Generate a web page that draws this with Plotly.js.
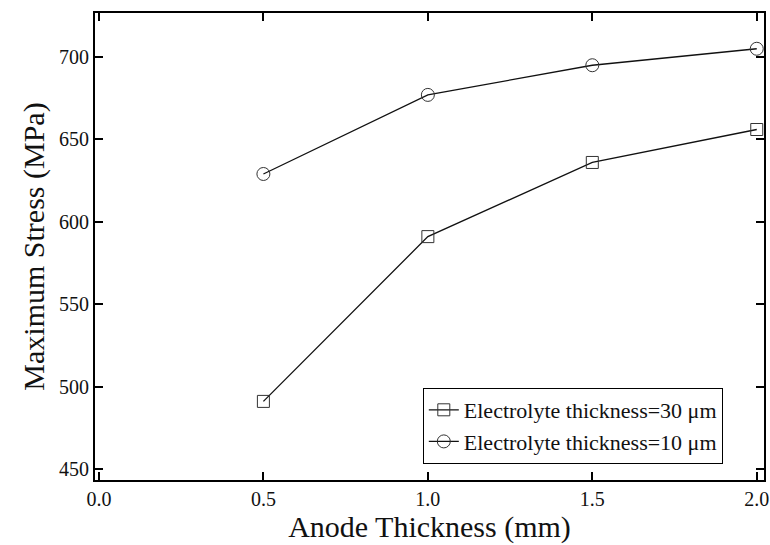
<!DOCTYPE html>
<html>
<head>
<meta charset="utf-8">
<script src="https://cdn.plot.ly/plotly-3.0.1.min.js"></script>
<style>html,body{margin:0;padding:0;background:#fff;}#chart{width:770px;height:545px;}</style>
</head>
<body>
<div id="chart"></div>
<script>
const anodeThickness = [0.5, 1.0, 1.5, 2.0];
const stress30um = [491, 591, 636, 656];
const stress10um = [629, 677, 695, 705];
const seriesNames = ["Electrolyte thickness=30 \u03bcm", "Electrolyte thickness=10 \u03bcm"];
const xTickVals = [0.0, 0.5, 1.0, 1.5, 2.0];
const xTickText = ["0.0", "0.5", "1.0", "1.5", "2.0"];
const yTickVals = [450, 500, 550, 600, 650, 700];

const font = "Liberation Serif";

const traces = [
  {
    x: anodeThickness, y: stress30um, name: seriesNames[0],
    mode: "lines+markers", type: "scatter",
    line: {color: "#111", width: 1.3},
    marker: {symbol: "square-open", size: 12, color: "#333", line: {width: 1, color: "#333"}}
  },
  {
    x: anodeThickness, y: stress10um, name: seriesNames[1],
    mode: "lines+markers", type: "scatter",
    line: {color: "#111", width: 1.3},
    marker: {symbol: "circle-open", size: 13, color: "#333", line: {width: 1, color: "#333"}}
  }
];

const axisCommon = {
  showline: true, linecolor: "#000", linewidth: 2, mirror: "ticks",
  ticks: "inside", ticklen: 8, tickwidth: 2, tickcolor: "#000",
  showgrid: false, zeroline: false, ticklabeloverflow: "allow",
  tickfont: {family: font, size: 20, color: "#111"}
};

const layout = {
  width: 770, height: 545,
  margin: {l: 95, r: 6, t: 13, b: 65},
  paper_bgcolor: "#fff", plot_bgcolor: "#fff",
  showlegend: true,
  legend: {
    x: 0.49, y: 0.197, xanchor: "left", yanchor: "top",
    bgcolor: "#fff", bordercolor: "#000", borderwidth: 1,
    font: {family: font, size: 22, color: "#111"},
    tracegroupgap: 0, itemwidth: 30
  },
  xaxis: Object.assign({}, axisCommon, {
    range: [-0.012, 2.022],
    tickvals: xTickVals, ticktext: xTickText,
    title: {text: "Anode Thickness (mm)", font: {family: font, size: 30, color: "#111"}, standoff: 4}
  }),
  yaxis: Object.assign({}, axisCommon, {
    range: [443.3, 726.7],
    tickvals: yTickVals,
    title: {text: "Maximum Stress (MPa)", font: {family: font, size: 30, color: "#111"}, standoff: 6}
  })
};

Plotly.newPlot("chart", traces, layout, {displayModeBar: false, staticPlot: true});
</script>
</body>
</html>
